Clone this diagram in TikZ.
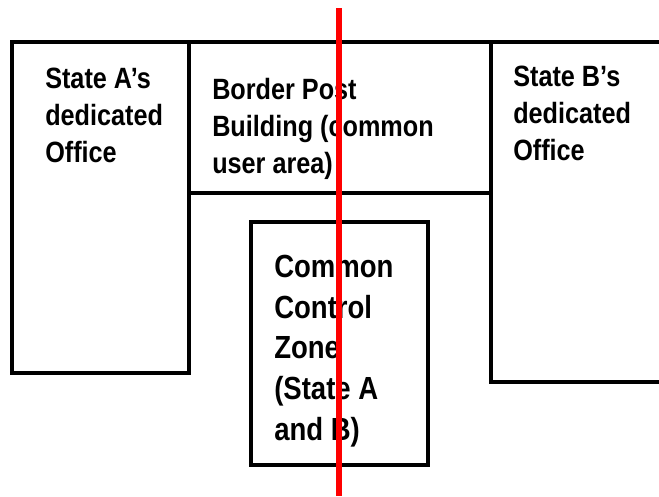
\documentclass[tikz,border=0pt]{standalone}
\usepackage{fontspec}
\newfontfamily\planfont{Liberation Sans}[FakeStretch=0.86]
\tikzset{x=0.75pt, y=-0.75pt,
    wall/.style={line width=3pt, line join=miter},
    border line/.style={red, line width=4.5pt},
    room text/.style={anchor=base west, align=left, inner sep=0pt,
        font=\planfont\bfseries\fontsize{22}{27.75}\selectfont},
    zone text/.style={room text, font=\planfont\bfseries\fontsize{24}{30.5}\selectfont},
    }
\begin{document}
\begin{tikzpicture}
\useasboundingbox (0,0) rectangle (659,496);
% offices and common building
\draw[wall] (12,42) rectangle (189,373);
\draw[wall] (189,42) -- (659,42);
\draw[wall] (189,193) -- (491,193);
\draw[wall] (491,42) -- (491,382) -- (659,382);
\draw[wall] (251,222) rectangle (428,465);
% room labels (placed at the last baseline)
\node[room text] (officeA) at (45,162) {State A’s\\dedicated\\Office};
\node[room text] (building) at (212,173) {Border Post\\Building (common\\user area)};
\node[room text] (officeB) at (513,160) {State B’s\\dedicated\\Office};
\node[zone text] (zone) at (274,440) {Common\\Control\\Zone\\(State A\\and B)};
% state border
\coordinate (borderTop) at (339,8);
\coordinate (borderEnd) at (339,496);
\draw[border line] (borderTop) -- (borderEnd);
\end{tikzpicture}
\end{document}
